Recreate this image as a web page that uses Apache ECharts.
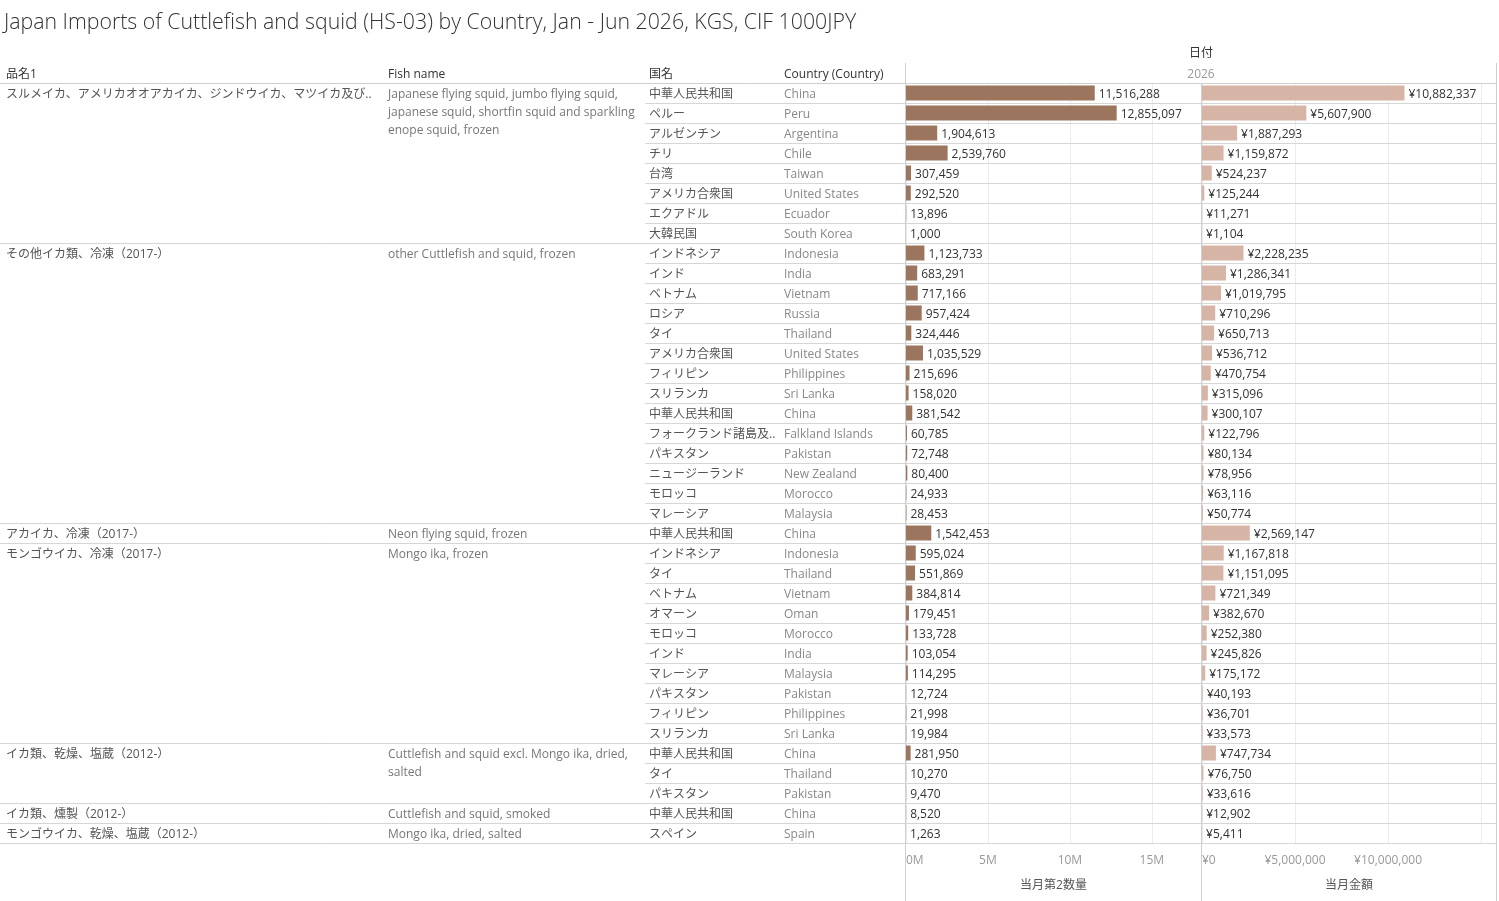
<!DOCTYPE html>
<html>
<head>
<meta charset="utf-8">
<title>Japan Imports of Cuttlefish and squid</title>
<script src="https://cdn.jsdelivr.net/npm/echarts@6/dist/echarts.min.js"></script>
<style>
  html, body { margin: 0; padding: 0; background: #fff; }
  #chart { width: 1499px; height: 901px; }
</style>
</head>
<body>
<div id="chart"></div>
<script>
// product groups (品名1 / Fish name) and how many country rows each has
const groupNames = [
  'スルメイカ、アメリカオオアカイカ、ジンドウイカ、マツイカ及びホタルイカ、冷凍（2017-）',
  'その他イカ類、冷凍（2017-）',
  'アカイカ、冷凍（2017-）',
  'モンゴウイカ、冷凍（2017-）',
  'イカ類、乾燥、塩蔵（2012-）',
  'イカ類、燻製（2012-）',
  'モンゴウイカ、乾燥、塩蔵（2012-）'
]
const fishNames = [
  'Japanese flying squid, jumbo flying squid,\njapanese squid, shortfin squid and sparkling\nenope squid, frozen',
  'other Cuttlefish and squid, frozen',
  'Neon flying squid, frozen',
  'Mongo ika, frozen',
  'Cuttlefish and squid excl. Mongo ika, dried,\nsalted',
  'Cuttlefish and squid, smoked',
  'Mongo ika, dried, salted'
]
const groupSizes = [8, 14, 1, 10, 3, 1, 1]

const countriesJa = [
  '中華人民共和国', 'ペルー', 'アルゼンチン', 'チリ', '台湾', 'アメリカ合衆国', 'エクアドル', '大韓民国',
  'インドネシア', 'インド', 'ベトナム', 'ロシア', 'タイ', 'アメリカ合衆国', 'フィリピン', 'スリランカ',
  '中華人民共和国', 'フォークランド諸島及びその属領', 'パキスタン', 'ニュージーランド', 'モロッコ', 'マレーシア',
  '中華人民共和国',
  'インドネシア', 'タイ', 'ベトナム', 'オマーン', 'モロッコ', 'インド', 'マレーシア', 'パキスタン', 'フィリピン', 'スリランカ',
  '中華人民共和国', 'タイ', 'パキスタン',
  '中華人民共和国',
  'スペイン'
]
const countriesEn = [
  'China', 'Peru', 'Argentina', 'Chile', 'Taiwan', 'United States', 'Ecuador', 'South Korea',
  'Indonesia', 'India', 'Vietnam', 'Russia', 'Thailand', 'United States', 'Philippines', 'Sri Lanka',
  'China', 'Falkland Islands', 'Pakistan', 'New Zealand', 'Morocco', 'Malaysia',
  'China',
  'Indonesia', 'Thailand', 'Vietnam', 'Oman', 'Morocco', 'India', 'Malaysia', 'Pakistan', 'Philippines', 'Sri Lanka',
  'China', 'Thailand', 'Pakistan',
  'China',
  'Spain'
]
// 当月第2数量 (KGS)
const quantity = [
  11516288, 12855097, 1904613, 2539760, 307459, 292520, 13896, 1000,
  1123733, 683291, 717166, 957424, 324446, 1035529, 215696, 158020,
  381542, 60785, 72748, 80400, 24933, 28453,
  1542453,
  595024, 551869, 384814, 179451, 133728, 103054, 114295, 12724, 21998, 19984,
  281950, 10270, 9470,
  8520,
  1263
]
// 当月金額 (1000JPY)
const amount = [
  10882337, 5607900, 1887293, 1159872, 524237, 125244, 11271, 1104,
  2228235, 1286341, 1019795, 710296, 650713, 536712, 470754, 315096,
  300107, 122796, 80134, 78956, 63116, 50774,
  2569147,
  1167818, 1151095, 721349, 382670, 252380, 245826, 175172, 40193, 36701, 33573,
  747734, 76750, 33616,
  12902,
  5411
]
const qtyTicks = [0, 5e6, 10e6, 15e6]
const amountTicks = [0, 5e6, 10e6]

const FONT = '"Open Sans", "Noto Sans CJK JP", sans-serif'
const rowKeys = countriesEn.map((c, i) => String(i))
const groupStarts = []
groupSizes.reduce((s, n) => { groupStarts.push(s); return s + n }, 0)

const fmt = v => v.toLocaleString('en-US')

function rowItem(params, api) {
  const i = params.dataIndex
  const yc = api.coord([0, i])[1]
  const h = api.size([0, 1])[1]
  const yb = Math.round(yc + h / 2) + 0.5
  return {
    type: 'group',
    children: [
      { type: 'text', style: { x: 649, y: yc + 2, text: countriesJa[i], fill: '#555', font: '12px ' + FONT,
        verticalAlign: 'middle', width: 128, overflow: 'truncate', ellipsis: '..' } },
      { type: 'text', style: { x: 784, y: yc + 2, text: countriesEn[i], fill: '#888', font: '12px ' + FONT,
        verticalAlign: 'middle' } },
      { type: 'line', shape: { x1: 645, y1: yb, x2: 1497, y2: yb }, style: { stroke: '#d6d6d6', lineWidth: 1 } }
    ]
  }
}

function groupItem(params, api) {
  const g = params.dataIndex
  const first = groupStarts[g]
  const last = first + groupSizes[g] - 1
  const yc = api.coord([0, first])[1]
  const h = api.size([0, 1])[1]
  const yb = Math.round(api.coord([0, last])[1] + h / 2) + 0.5
  return {
    type: 'group',
    children: [
      { type: 'text', style: { x: 6, y: yc + 2, text: groupNames[g], fill: '#555', font: '12px ' + FONT,
        verticalAlign: 'middle', width: 378, overflow: 'truncate', ellipsis: '..' } },
      { type: 'text', style: { x: 388, y: yc - 7, text: fishNames[g], fill: '#777', font: '12px ' + FONT,
        verticalAlign: 'top', lineHeight: 18 } },
      { type: 'line', shape: { x1: 0, y1: yb, x2: 645, y2: yb }, style: { stroke: '#d6d6d6', lineWidth: 1 } }
    ]
  }
}

function valueAxis(grid, max, ticks, name, label) {
  return {
    gridIndex: grid, type: 'value', min: 0, max: max, interval: 5e6,
    name: name, nameLocation: 'middle', nameGap: 37,
    nameTextStyle: { color: '#555', fontSize: 12, fontFamily: FONT },
    axisLine: { show: false }, axisTick: { show: false },
    splitLine: { show: true, lineStyle: { color: '#ececec' } },
    axisLabel: {
      color: '#999', fontSize: 12, fontFamily: FONT, margin: 12, alignMinLabel: 'left',
      formatter: v => ticks.indexOf(v) >= 0 ? label(v) : ''
    }
  }
}

function barSeries(axis, data, color, label) {
  return {
    type: 'bar', xAxisIndex: axis, yAxisIndex: axis, data: data, barWidth: 15,
    itemStyle: { color: color },
    label: { show: true, position: 'right', distance: 4, offset: [0, 2], color: '#333', fontSize: 12, fontFamily: FONT,
      formatter: p => label(p.value) }
  }
}

function vline(x, top) {
  return { type: 'line', shape: { x1: x, y1: top, x2: x, y2: 901 }, style: { stroke: '#cfcfcf', lineWidth: 1 }, z: 10 }
}
function header(x, y, text, color, align) {
  return { type: 'text', x: x, y: y, style: { text: text, fill: color, font: '12px ' + FONT,
    align: align || 'left', verticalAlign: 'middle' } }
}

const option = {
  animation: false,
  textStyle: { fontFamily: FONT },
  title: {
    text: 'Japan Imports of Cuttlefish and squid (HS-03) by Country, Jan - Jun 2026, KGS, CIF 1000JPY',
    left: 4, top: 12, padding: 0,
    textStyle: { fontSize: 21.3, fontWeight: 300, color: '#333', fontFamily: FONT }
  },
  grid: [
    { left: 0, top: 83, width: 1497, height: 760 },
    { left: 906, top: 83, width: 295, height: 760 },
    { left: 1202, top: 83, width: 295, height: 760 }
  ],
  xAxis: [
    { gridIndex: 0, type: 'value', min: 0, max: 1497, show: false },
    valueAxis(1, 18e6, qtyTicks, '当月第2数量', v => (v / 1e6) + 'M'),
    valueAxis(2, 15.8e6, amountTicks, '当月金額', v => '¥' + fmt(v))
  ],
  yAxis: [0, 1, 2].map(g => ({ gridIndex: g, type: 'category', data: rowKeys, inverse: true, show: false })),
  series: [
    { type: 'custom', xAxisIndex: 0, yAxisIndex: 0, clip: false, silent: true,
      data: rowKeys.map((k, i) => [0, i]), renderItem: rowItem },
    { type: 'custom', xAxisIndex: 0, yAxisIndex: 0, clip: false, silent: true,
      data: groupStarts.map(s => [0, s]), renderItem: groupItem },
    barSeries(1, quantity, '#9c755f', fmt),
    barSeries(2, amount, '#d7b5a6', v => '¥' + fmt(v))
  ],
  graphic: [
    vline(905.5, 63), vline(1201.5, 83), vline(1496.5, 63),
    { type: 'line', shape: { x1: 0, y1: 83.5, x2: 1497, y2: 83.5 }, style: { stroke: '#cfcfcf', lineWidth: 1 }, z: 10 },
    header(6, 75, '品名1', '#333'),
    header(388, 75, 'Fish name', '#333'),
    header(649, 75, '国名', '#333'),
    header(784, 75, 'Country (Country)', '#333'),
    header(1201, 54, '日付', '#333', 'center'),
    header(1201, 75, '2026', '#999', 'center')
  ]
}

const chart = echarts.init(document.getElementById('chart'))
chart.setOption(option)
</script>
</body>
</html>
